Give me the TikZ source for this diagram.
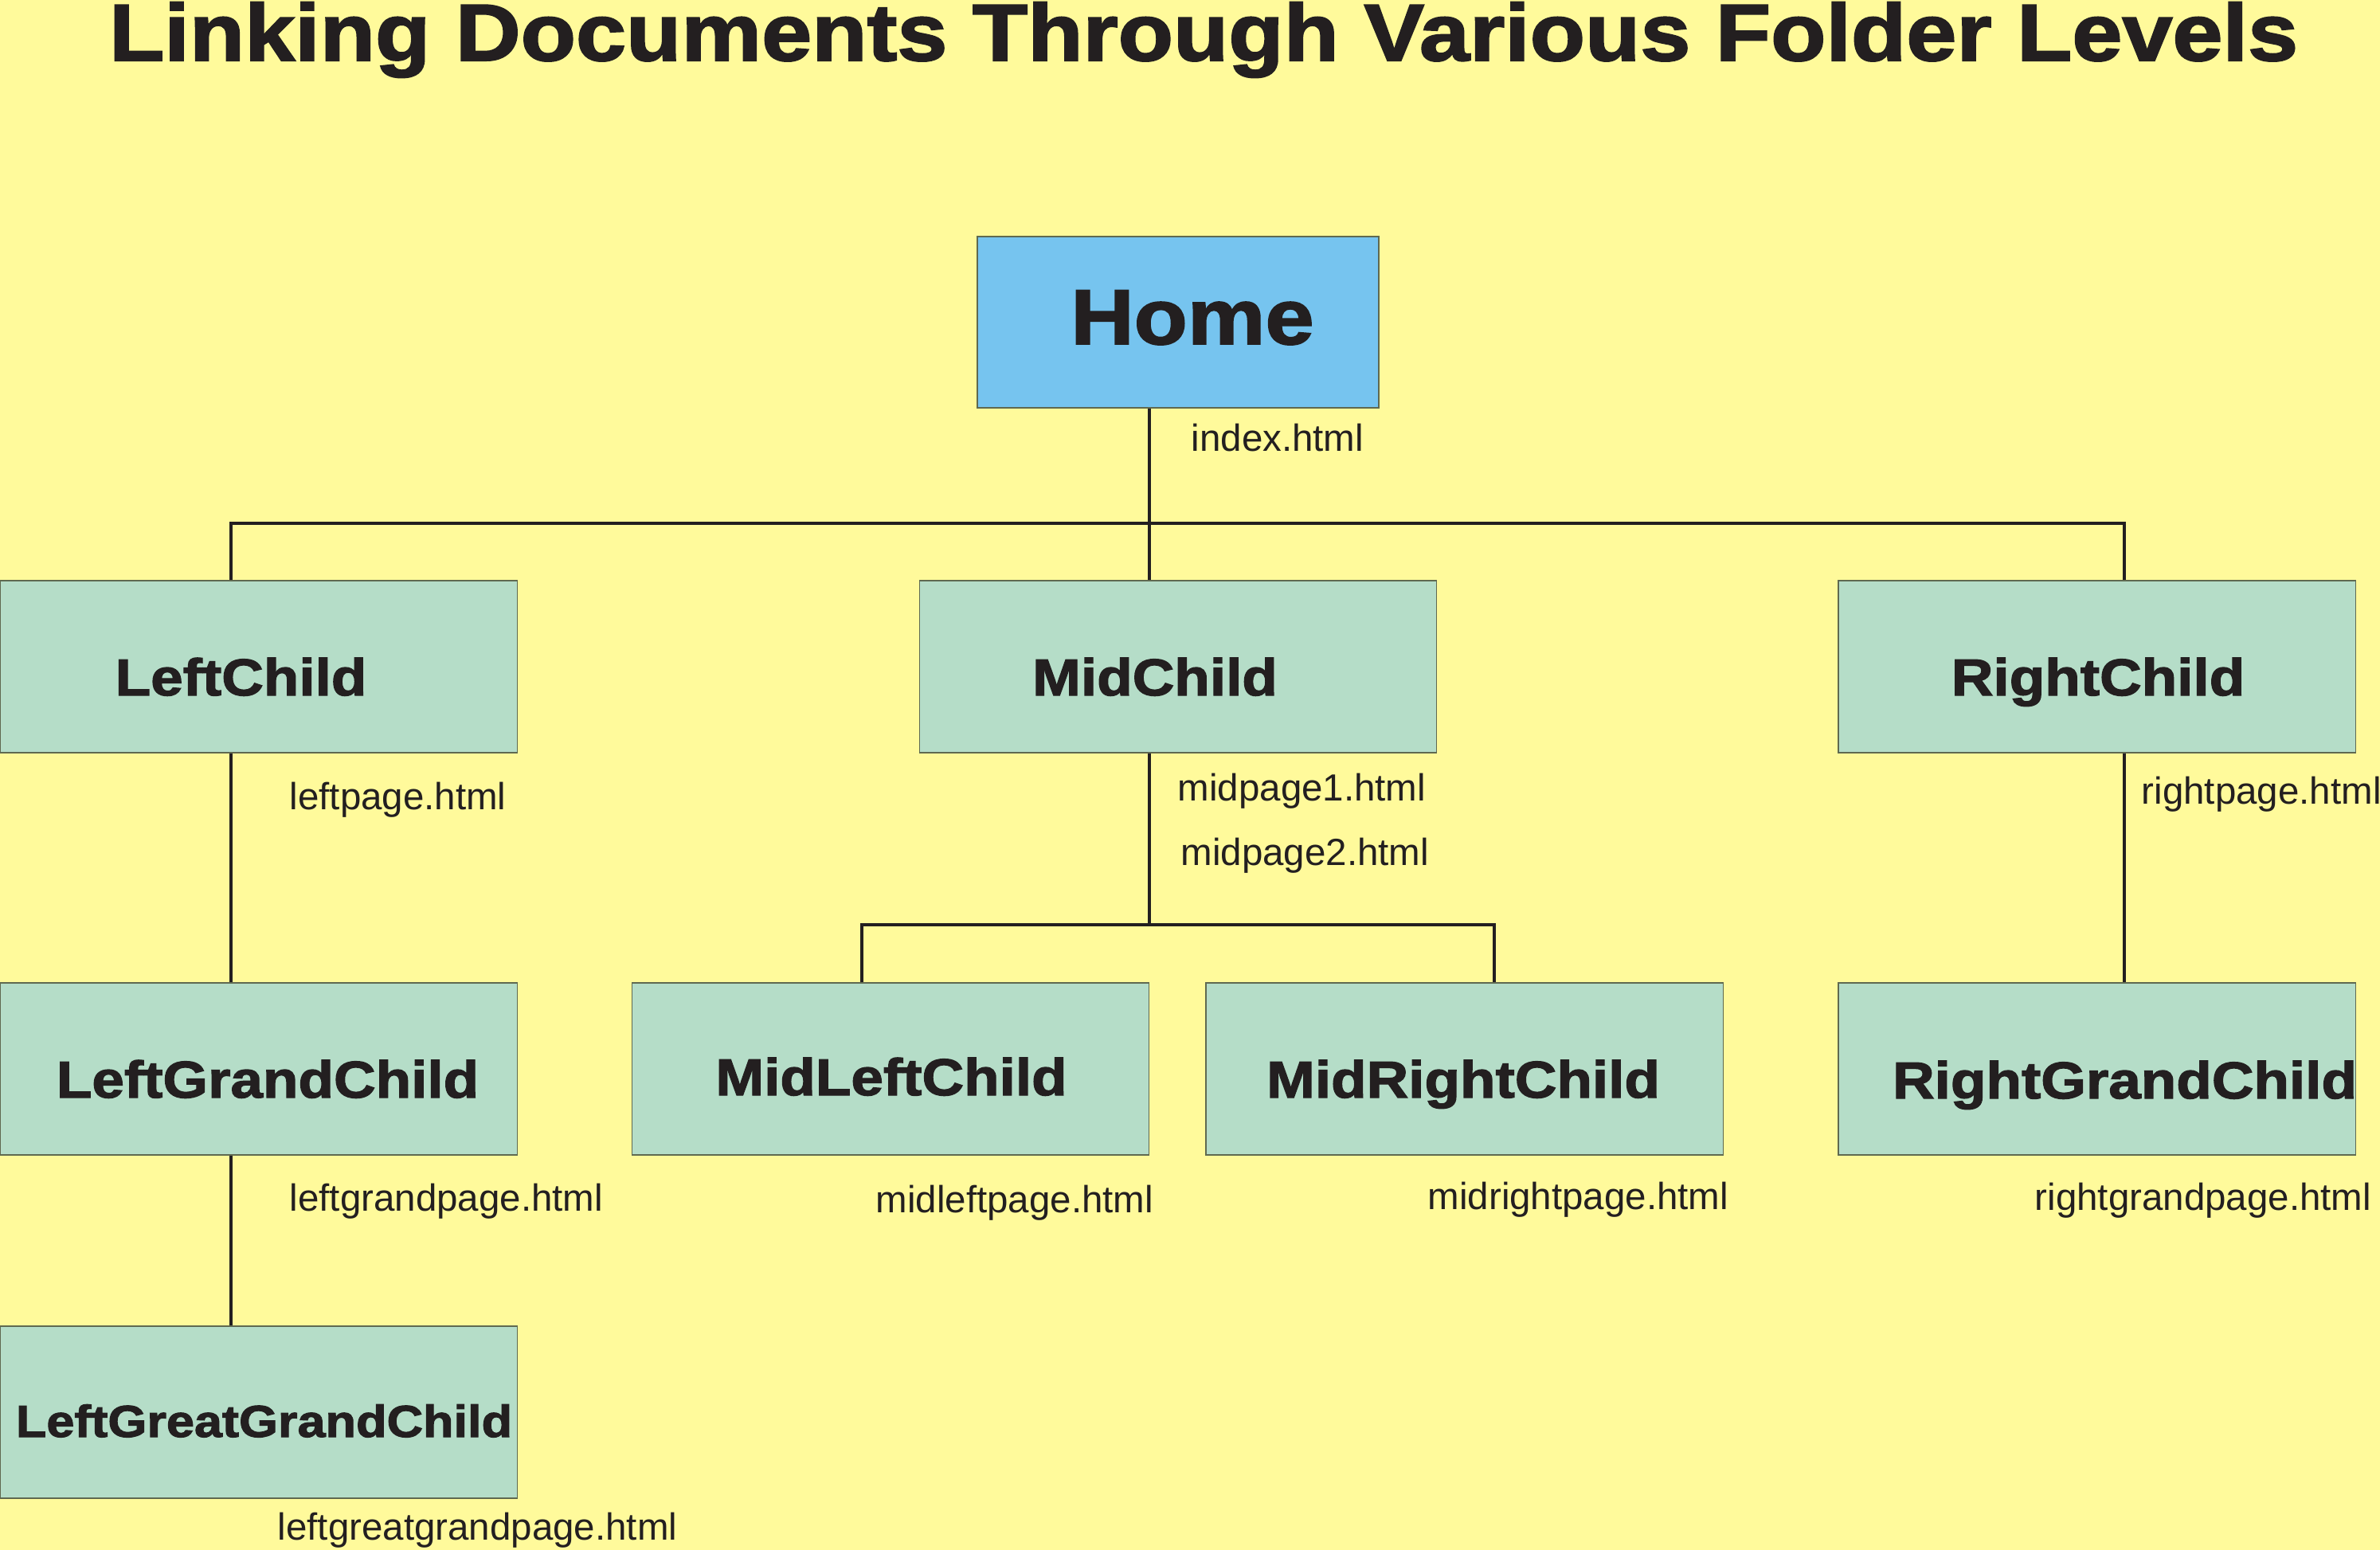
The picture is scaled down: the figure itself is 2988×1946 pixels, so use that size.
\documentclass[tikz,border=0pt]{standalone}
\usepackage{fontspec}
\setmainfont{Liberation Sans}
\newfontfamily\heavyfont[FakeStretch=1.12,FakeBold=2]{Liberation Sans Bold}
\definecolor{paper}{RGB}{255,250,155}
\definecolor{homeblue}{RGB}{118,196,239}
\definecolor{boxgreen}{RGB}{181,221,200}
\definecolor{boxline}{RGB}{95,105,80}
\definecolor{ink}{RGB}{35,31,32}

\begin{document}
\begin{tikzpicture}[x=0.01cm,y=-0.01cm,
  page/.style={draw=boxline,fill=boxgreen,line width=0.4pt,inner sep=0,
    minimum width=6.49cm,minimum height=2.16cm},
  boxname/.style={anchor=base,inner sep=0,text=ink,font=\heavyfont\fontsize{18.5}{20}\selectfont},
  file/.style={anchor=base west,inner sep=0,text=ink,font=\fontsize{13.5}{15}\selectfont},
  link/.style={draw=ink,line width=1.1pt}]
  \fill[paper] (0,0) rectangle (2988,1946);
  \useasboundingbox (0,0) rectangle (2988,1946);
  \node[anchor=base,inner sep=0,text=ink,font=\heavyfont\fontsize{28.8}{30}\selectfont] (title) at (1511,76) {Linking Documents Through Various Folder Levels};
  % boxes
  \node[page,fill=homeblue,minimum width=5.04cm,minimum height=2.15cm] (home) at (1479,404.5) {};
  \node[page] (left) at (325,837) {};
  \node[page] (mid) at (1479,837) {};
  \node[page] (right) at (2632.5,837) {};
  \node[page] (lgc) at (325,1342) {};
  \node[page] (mlc) at (1118,1342) {};
  \node[page] (mrc) at (1838.5,1342) {};
  \node[page] (rgc) at (2632.5,1342) {};
  \node[page] (lggc) at (325,1773) {};
  % box texts
  \node[boxname,font=\heavyfont\fontsize{27.9}{30}\selectfont] (homeT) at (1497,432) {Home};
  \node[boxname] (leftT) at (302.5,873) {LeftChild};
  \node[boxname] (midT) at (1450,873) {MidChild};
  \node[boxname] (rightT) at (2634,873) {RightChild};
  \node[boxname] (lgcT) at (336,1378) {LeftGrandChild};
  \node[boxname] (mlcT) at (1119,1375) {MidLeftChild};
  \node[boxname] (mrcT) at (1837,1378) {MidRightChild};
  \node[boxname] (rgcT) at (2667.5,1379) {RightGrandChild};
  \node[boxname,font=\heavyfont\fontsize{16}{18}\selectfont] (lggcT) at (331.5,1804) {LeftGreatGrandChild};
  % connectors
  \coordinate (hub) at (1443,657);
  \coordinate (hubL) at (290,657);
  \coordinate (hubR) at (2667,657);
  \coordinate (midhub) at (1443,1161);
  \coordinate (midhubL) at (1082,1161);
  \coordinate (midhubR) at (1876,1161);
  \draw[link] (home.south -| hub) -- (mid.north -| hub);
  \draw[link] (left.north -| hubL) |- (hubR) -- (right.north -| hubR);
  \draw[link] (left.south -| hubL) -- (lgc.north -| hubL);
  \draw[link] (lgc.south -| hubL) -- (lggc.north -| hubL);
  \draw[link] (right.south -| hubR) -- (rgc.north -| hubR);
  \draw[link] (mid.south -| midhub) -- (midhub);
  \draw[link] (mlc.north -| midhubL) |- (midhubR) -- (mrc.north -| midhubR);
  % file names
  \node[file] (idx) at (1495,567) {index.html};
  \node[file] (leftF) at (363,1016) {leftpage.html};
  \node[file] (midF1) at (1478,1005) {midpage1.html};
  \node[file] (midF2) at (1482,1086) {midpage2.html};
  \node[file] (rightF) at (2688,1009) {rightpage.html};
  \node[file] (lgcF) at (363,1520) {leftgrandpage.html};
  \node[file] (mlcF) at (1099,1522) {midleftpage.html};
  \node[file] (mrcF) at (1792,1518) {midrightpage.html};
  \node[file] (rgcF) at (2554,1519) {rightgrandpage.html};
  \node[file] (lggcF) at (348,1933) {leftgreatgrandpage.html};
\end{tikzpicture}
\end{document}
